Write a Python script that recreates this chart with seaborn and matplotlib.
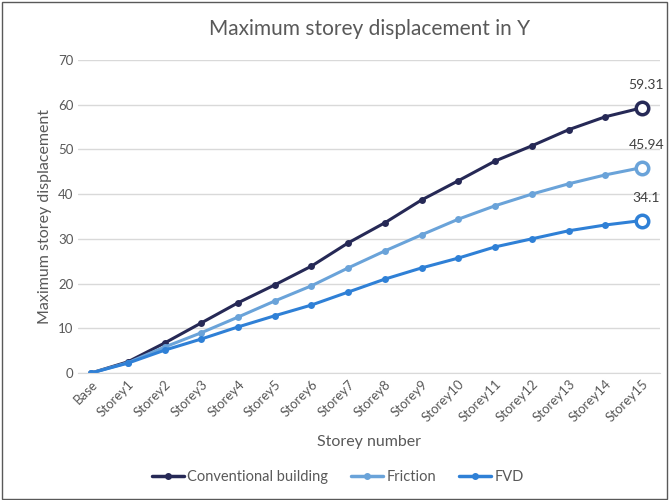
import pandas as pd
import matplotlib.pyplot as plt
import seaborn as sns

sns.set_style("white")
plt.rcParams['font.family'] = ['Lato', 'DejaVu Sans']

storeys = ["Base"] + ["Storey%d" % i for i in range(1, 16)]
conventional = [0, 2.5, 6.7, 11.2, 15.7, 19.7, 23.9, 29.1, 33.6, 38.7, 43.0, 47.4, 50.8, 54.4, 57.3, 59.31]
friction = [0, 2.3, 5.8, 9.0, 12.5, 16.1, 19.5, 23.5, 27.3, 30.9, 34.4, 37.4, 40.0, 42.3, 44.3, 45.94]
fvd = [0, 2.2, 5.1, 7.6, 10.3, 12.8, 15.2, 18.1, 21.0, 23.5, 25.7, 28.2, 30.0, 31.8, 33.1, 34.1]
series = ["Conventional building", "Friction", "FVD"]
colors = ["#262956", "#6aa3d9", "#2f80d6"]

df = pd.DataFrame({"storey": storeys * 3,
                   "idx": list(range(16)) * 3,
                   "value": conventional + friction + fvd,
                   "series": [s for s in series for _ in storeys]})

fig = plt.figure(figsize=(6.69, 5), dpi=100)
ax = fig.add_axes([0.117, 0.254, 0.87, 0.626])

sns.lineplot(data=df, x="idx", y="value", hue="series", palette=colors,
             marker="o", markersize=5, markeredgewidth=0, linewidth=2.2,
             ax=ax, legend=False)

for vals, c in zip([conventional, friction, fvd], colors):
    ax.plot(15, vals[-1], marker="o", markersize=9, markerfacecolor="white",
            markeredgecolor=c, markeredgewidth=2.5, zorder=5)
    ax.annotate(f"{vals[-1]:g}", xy=(15, vals[-1]), xytext=(15.12, vals[-1] + 3.8),
                ha="center", va="bottom", fontsize=10, color="#404040")

ax.set_xlim(-0.35, 15.5)
ax.set_ylim(0, 70)
ax.set_yticks(range(0, 71, 10))
ax.set_xticks(range(16))
ax.set_xticklabels(storeys, rotation=45, ha="right", rotation_mode="anchor")
ax.tick_params(axis="both", labelsize=9.5, colors="#595959", length=0)
ax.yaxis.grid(True, color="#d9d9d9", linewidth=1)
for s in ax.spines.values():
    s.set_visible(False)
ax.spines["bottom"].set_visible(True)
ax.spines["bottom"].set_color("#d9d9d9")

ax.set_xlabel("Storey number", fontsize=11.5, color="#595959", labelpad=8)
ax.set_ylabel("Maximum storey displacement", fontsize=11.5, color="#595959")
ax.set_title("Maximum storey displacement in Y", fontsize=15, color="#595959", pad=18)

handles = [plt.Line2D([], [], color=c, marker="o", markersize=4, linewidth=2.5) for c in colors]
fig.legend(handles, series, loc="lower center", bbox_to_anchor=(0.505, 0.005), ncol=3,
           frameon=False, fontsize=10.5, labelcolor="#595959", handlelength=2.2,
           handletextpad=0.2, columnspacing=1.6)

fig.patches.append(plt.Rectangle((0.003, 0.003), 0.994, 0.994, transform=fig.transFigure,
                                 fill=False, edgecolor="#595959", linewidth=1))

fig.savefig("out.png", dpi=100)
